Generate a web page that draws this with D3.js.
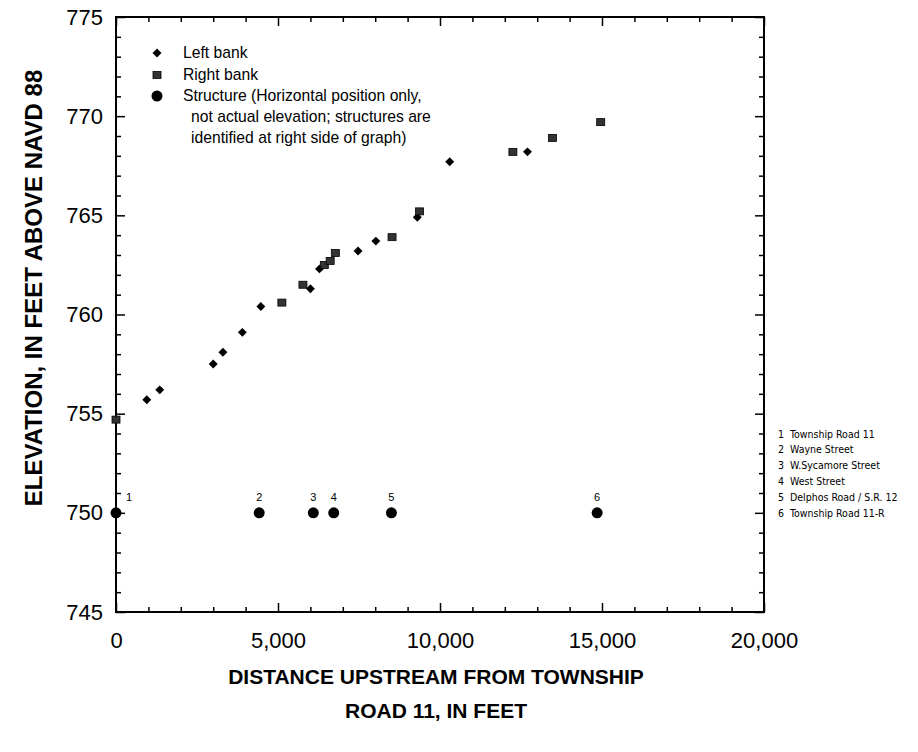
<!DOCTYPE html>
<html>
<head>
<meta charset="utf-8">
<script src="https://cdn.jsdelivr.net/npm/d3@7/dist/d3.min.js"></script>
<style>
  body { margin: 0; background: #fff; }
  text { font-family: "Liberation Sans", Arial, Helvetica, sans-serif; fill: #000; }
</style>
</head>
<body>
<script>
// left bank (diamonds)
const leftDist = [950, 1350, 3000, 3300, 3900, 4470, 6000, 6280, 7470, 8020, 9300, 10300, 12700];
const leftElev = [755.7, 756.2, 757.5, 758.1, 759.1, 760.4, 761.3, 762.3, 763.2, 763.7, 764.9, 767.7, 768.2];

// right bank (squares)
const rightDist = [0, 5120, 5770, 6430, 6610, 6770, 8520, 9370, 12250, 13470, 14960];
const rightElev = [754.7, 760.6, 761.5, 762.5, 762.7, 763.1, 763.9, 765.2, 768.2, 768.9, 769.7];

// structures, horizontal position only
const structDist = [0, 4420, 6090, 6720, 8500, 14850];
const structElev = 750;
const structNames = ["Township Road 11", "Wayne Street", "W.Sycamore Street",
                     "West Street", "Delphos Road / S.R. 12", "Township Road 11-R"];

const xTicks = [0, 5000, 10000, 15000, 20000];
const yTicks = [745, 750, 755, 760, 765, 770, 775];

let margin = {top: 17, right: 154, bottom: 140, left: 116},
    width = 918 - margin.left - margin.right,
    height = 752 - margin.top - margin.bottom;

let svg = d3.select("body")
            .append("svg")
            .attr("width", width + margin.left + margin.right)
            .attr("height", height + margin.top + margin.bottom);

let g = svg.append("g")
           .attr("transform", `translate(${margin.left}, ${margin.top})`);

let xScale = d3.scaleLinear().domain([0, 20000]).range([0, width]);
let yScale = d3.scaleLinear().domain([745, 775]).range([height, 0]);

// minor/major inward ticks on all four sides
const xMinor = d3.range(0, 20001, 1000);
const yMinor = d3.range(745, 776, 1);

function inwardTicks(axisFn, scale, vals, step, transform, horiz) {
    let ax = g.append("g").attr("transform", transform)
        .call(axisFn(scale).tickValues(vals).tickFormat("").tickSizeOuter(0));
    ax.select(".domain").remove();
    ax.selectAll(".tick line")
        .attr("stroke-width", 1.5)
        .each(function(d) {
            let len = d % step === 0 ? 9 : 5;
            let l = d3.select(this);
            if (horiz) l.attr("y2", axisFn === d3.axisBottom ? -len : len);
            else l.attr("x2", axisFn === d3.axisRight ? -len : len);
        });
}
inwardTicks(d3.axisBottom, xScale, xMinor, 5000, `translate(0, ${height})`, true);
inwardTicks(d3.axisTop, xScale, xMinor, 5000, `translate(0, 0)`, true);
inwardTicks(d3.axisLeft, yScale, yMinor, 5, `translate(0, 0)`, false);
inwardTicks(d3.axisRight, yScale, yMinor, 5, `translate(${width}, 0)`, false);

// frame
g.append("rect")
    .attr("width", width).attr("height", height)
    .attr("fill", "none").attr("stroke", "#000").attr("stroke-width", 2);

// tick labels
let xAxis = g.append("g")
    .attr("transform", `translate(0, ${height})`)
    .call(d3.axisBottom(xScale).tickValues(xTicks).tickFormat(d3.format(",")).tickSize(0).tickPadding(20));
xAxis.select(".domain").remove();
xAxis.selectAll("text").style("font-size", "22px");

let yAxis = g.append("g")
    .call(d3.axisLeft(yScale).tickValues(yTicks).tickSize(0).tickPadding(13));
yAxis.select(".domain").remove();
yAxis.selectAll("text").style("font-size", "22px");

// axis titles
svg.append("text")
    .attr("transform", `translate(42, 288) rotate(-90)`)
    .attr("text-anchor", "middle")
    .style("font-size", "24px").style("font-weight", "bold")
    .text("ELEVATION, IN FEET ABOVE NAVD 88");

let xt = svg.append("text")
    .attr("text-anchor", "middle")
    .style("font-size", "21px").style("font-weight", "bold");
xt.append("tspan").attr("x", margin.left + width / 2 - 4).attr("y", 684).text("DISTANCE UPSTREAM FROM TOWNSHIP");
xt.append("tspan").attr("x", margin.left + width / 2 - 4).attr("y", 718).text("ROAD 11, IN FEET");

// symbols
const diamond = d3.symbol().type(d3.symbolSquare).size(40);

g.selectAll(".left")
    .data(leftDist)
    .enter()
    .append("path")
        .attr("class", "left")
        .attr("d", diamond)
        .attr("transform", (d, i) => `translate(${xScale(d)}, ${yScale(leftElev[i])}) rotate(45)`)
        .attr("fill", "#000");

g.selectAll(".right")
    .data(rightDist)
    .enter()
    .append("rect")
        .attr("class", "right")
        .attr("x", d => xScale(d) - 4)
        .attr("y", (d, i) => yScale(rightElev[i]) - 3.5)
        .attr("width", 8)
        .attr("height", 7)
        .attr("fill", "#333")
        .attr("stroke", "#000")
        .attr("stroke-width", 0.8);

g.selectAll(".struct")
    .data(structDist)
    .enter()
    .append("circle")
        .attr("class", "struct")
        .attr("cx", d => xScale(d))
        .attr("cy", yScale(structElev))
        .attr("r", 5.5)
        .attr("fill", "#000");

g.selectAll(".structNum")
    .data(structDist)
    .enter()
    .append("text")
        .attr("class", "structNum")
        .attr("x", (d, i) => xScale(d) + (i === 0 ? 13 : 0))
        .attr("y", yScale(structElev) - 12)
        .attr("text-anchor", "middle")
        .style("font-size", "11px")
        .text((d, i) => i + 1);

// legend
let legend = svg.append("g");
legend.append("path").attr("d", diamond).attr("transform", "translate(157, 53) rotate(45)");
legend.append("rect").attr("x", 153).attr("y", 71.5).attr("width", 8).attr("height", 7)
    .attr("fill", "#333").attr("stroke", "#000").attr("stroke-width", 0.8);
legend.append("circle").attr("cx", 157).attr("cy", 96).attr("r", 5.5);
const legendLines = [
    [183, 53, "Left bank"],
    [183, 75, "Right bank"],
    [183, 96, "Structure (Horizontal position only,"],
    [191, 117, "not actual elevation; structures are"],
    [191, 138, "identified at right side of graph)"]
];
legend.selectAll("text")
    .data(legendLines)
    .enter()
    .append("text")
        .attr("x", d => d[0])
        .attr("y", d => d[1])
        .attr("dy", "0.35em")
        .style("font-size", "15.7px")
        .text(d => d[2]);

// structure list at right
let list = svg.append("g").attr("transform", "translate(778, 434)");
structNames.forEach((name, i) => {
    list.append("text").attr("x", 0).attr("y", i * 15.8).attr("dy", "0.35em")
        .style("font-family", "'Liberation Sans Narrow', 'DejaVu Sans Condensed', sans-serif")
        .style("font-size", "10.5px").text(i + 1);
    list.append("text").attr("x", 12).attr("y", i * 15.8).attr("dy", "0.35em")
        .style("font-family", "'Liberation Sans Narrow', 'DejaVu Sans Condensed', sans-serif")
        .style("font-size", "10.5px").text(name);
});
</script>
</body>
</html>
